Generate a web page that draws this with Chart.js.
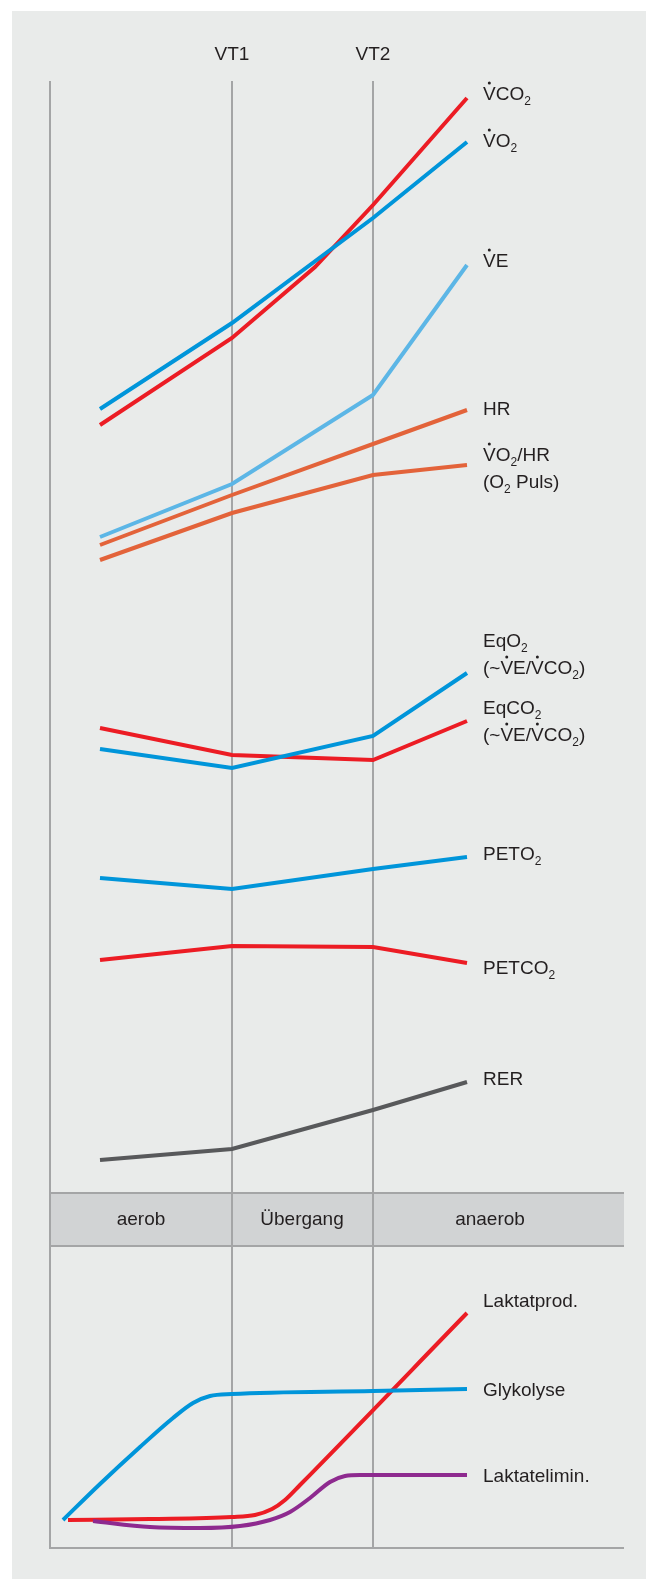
<!DOCTYPE html>
<html>
<head>
<meta charset="utf-8">
<script src="https://cdn.jsdelivr.net/npm/chart.js@4/dist/chart.umd.min.js"></script>
<style>
  html, body { margin: 0; padding: 0; background: #fff; }
  #wrap { width: 646px; height: 1579px; position: relative; }
</style>
</head>
<body>
<div id="wrap"><canvas id="chart"></canvas></div>
<script>
// schematic units: x = load (0 = start of test), y = relative level (0 = bottom axis)
const thresholds = [0, 182, 323];          // start, VT1, VT2
const thresholdLabels = ["", "VT1", "VT2"];
const stageX = [50, 182, 323, 417];

const vco2X = [50, 182, 265, 323, 417];
const vco2 = [1123, 1210, 1281, 1343, 1450];
const vo2 = [1139, 1225, 1330, 1406];
const ve = [1011, 1064, 1153, 1283];
const hr = [1003, 1053, 1104, 1138];
const o2puls = [988, 1035, 1073, 1083];
const eqO2 = [799, 780, 812, 875];
const eqCO2 = [820, 793, 788, 827];
const petO2 = [670, 659, 679, 691];
const petCO2 = [588, 602, 601, 585];
const rer = [388, 399, 438, 466];

const glykolyseX = [13, 50, 90, 123, 143, 160, 182, 323, 417];
const glykolyse = [28, 64, 101, 130, 145, 152, 154, 157, 159];
const laktatProdX = [18, 100, 182, 205, 222, 235, 250, 417];
const laktatProd = [28, 29, 31, 33, 39, 48, 63, 235];
const laktatElimX = [43, 100, 150, 190, 220, 240, 260, 280, 295, 310, 417];
const laktatElim = [27, 21, 20, 22, 28, 36, 50, 66, 72, 73, 73];

const zones = ["aerob", "Übergang", "anaerob"];
const zoneX = [91, 252, 440];
const band = [302, 355];

// series names: ^X = letter with dot above, _2 = subscript
const seriesLabels = [
  { y: 1455, lines: ["^VCO_2"] },
  { y: 1408, lines: ["^VO_2"] },
  { y: 1288, lines: ["^VE"] },
  { y: 1140, lines: ["HR"] },
  { y: 1094, lines: ["^VO_2/HR", "(O_2 Puls)"] },
  { y: 908, lines: ["EqO_2", "(~^VE/^VCO_2)"] },
  { y: 841, lines: ["EqCO_2", "(~^VE/^VCO_2)"] },
  { y: 695, lines: ["PETO_2"] },
  { y: 581, lines: ["PETCO_2"] },
  { y: 470, lines: ["RER"] },
  { y: 248, lines: ["Laktatprod."] },
  { y: 159, lines: ["Glykolyse"] },
  { y: 73, lines: ["Laktatelimin."] }
];
const labelX = 433;

const RED = "#ec1c24", BLUE = "#0095da", LIGHTBLUE = "#5cb6e6",
      ORANGE = "#e3633a", GREY = "#58595b", PURPLE = "#8e2a8f";
const TEXT = "#231f20", GRID = "#a4a5a6";
const FONT = '"Liberation Sans", Arial, sans-serif';

function pts(xs, ys) { return ys.map((y, i) => ({ x: xs[i], y: y })); }

function line(data, color, smooth) {
  return {
    data: data,
    borderColor: color,
    borderWidth: 4,
    pointRadius: 0,
    fill: false,
    tension: 0,
    cubicInterpolationMode: smooth ? "monotone" : "default"
  };
}

function drawRich(ctx, str, x, y) {
  const main = "19px " + FONT, sub = "12px " + FONT;
  let cx = x;
  ctx.font = main;
  for (let i = 0; i < str.length; i++) {
    let ch = str[i];
    if (ch === "_") {
      ch = str[++i];
      ctx.font = sub;
      ctx.fillText(ch, cx, y + 5);
      cx += ctx.measureText(ch).width;
      ctx.font = main;
    } else if (ch === "^") {
      ch = str[++i];
      const w = ctx.measureText(ch).width;
      ctx.fillText(ch, cx, y);
      ctx.beginPath();
      ctx.arc(cx + w / 2, y - 17, 1.5, 0, Math.PI * 2);
      ctx.fill();
      cx += w;
    } else {
      ctx.fillText(ch, cx, y);
      cx += ctx.measureText(ch).width;
    }
  }
}

const backdrop = {
  id: "backdrop",
  beforeDraw(chart) {
    const { ctx, scales: { x, y } } = chart;
    ctx.save();
    ctx.fillStyle = "#e9ebea";
    ctx.fillRect(12, 11, chart.width - 12, chart.height - 11);

    // phase band
    const bTop = y.getPixelForValue(band[1]), bBot = y.getPixelForValue(band[0]);
    ctx.fillStyle = "#d1d3d4";
    ctx.fillRect(x.getPixelForValue(0), bTop, x.getPixelForValue(x.max) - x.getPixelForValue(0), bBot - bTop);

    ctx.strokeStyle = GRID;
    ctx.lineWidth = 2;
    ctx.beginPath();
    [bTop, bBot, y.getPixelForValue(0)].forEach(py => {
      ctx.moveTo(x.getPixelForValue(0) - 1, py);
      ctx.lineTo(x.getPixelForValue(x.max), py);
    });
    thresholds.forEach(t => {
      const px = x.getPixelForValue(t);
      ctx.moveTo(px, y.getPixelForValue(y.max));
      ctx.lineTo(px, y.getPixelForValue(0));
    });
    ctx.stroke();

    ctx.fillStyle = TEXT;
    ctx.font = "19px " + FONT;
    ctx.textAlign = "center";
    ctx.textBaseline = "middle";
    zones.forEach((z, i) => ctx.fillText(z, x.getPixelForValue(zoneX[i]), (bTop + bBot) / 2));
    thresholdLabels.forEach((l, i) => {
      if (l) ctx.fillText(l, x.getPixelForValue(thresholds[i]), y.getPixelForValue(1493));
    });
    ctx.restore();
  },
  afterDraw(chart) {
    const { ctx, scales: { x, y } } = chart;
    ctx.save();
    ctx.fillStyle = TEXT;
    ctx.textAlign = "left";
    ctx.textBaseline = "alphabetic";
    seriesLabels.forEach(s => {
      s.lines.forEach((t, i) => {
        const py = y.getPixelForValue(s.y) + i * 27 + 7;
        drawRich(ctx, t, x.getPixelForValue(labelX), py);
      });
    });
    ctx.restore();
  }
};

new Chart(document.getElementById("chart"), {
  type: "line",
  data: {
    datasets: [
      line(pts(stageX, vo2), BLUE),
      line(pts(vco2X, vco2), RED),
      line(pts(stageX, ve), LIGHTBLUE),
      line(pts(stageX, hr), ORANGE),
      line(pts(stageX, o2puls), ORANGE),
      line(pts(stageX, eqO2), BLUE),
      line(pts(stageX, eqCO2), RED),
      line(pts(stageX, petO2), BLUE),
      line(pts(stageX, petCO2), RED),
      line(pts(stageX, rer), GREY),
      line(pts(glykolyseX, glykolyse), BLUE, true),
      line(pts(laktatElimX, laktatElim), PURPLE, true),
      line(pts(laktatProdX, laktatProd), RED, true)
    ]
  },
  options: {
    responsive: true,
    maintainAspectRatio: false,
    animation: false,
    layout: { padding: { left: 50, right: 22, top: 81, bottom: 31 } },
    plugins: { legend: { display: false }, tooltip: { enabled: false } },
    scales: {
      x: { type: "linear", min: 0, max: 574, display: false },
      y: { type: "linear", min: 0, max: 1467, display: false }
    }
  },
  plugins: [backdrop]
});
</script>
</body>
</html>
